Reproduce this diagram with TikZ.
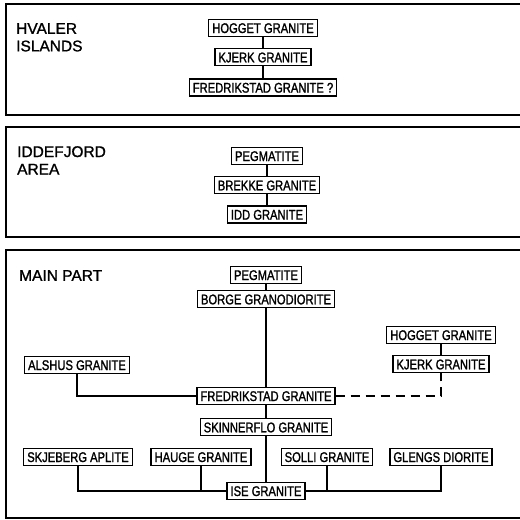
\documentclass[tikz,border=0pt]{standalone}
\usepackage{fontspec}
\setmainfont{Liberation Sans}[FakeBold=1.2]
\newfontfamily\rockfont{Liberation Sans}[FakeStretch=0.8,FakeBold=1.4]
\usetikzlibrary{positioning}

\begin{document}
\begin{tikzpicture}[x=1pt,y=-1pt,node distance=11pt,
  rock/.style={draw,line width=1.3pt,font=\rockfont\fontsize{14}{15}\selectfont,
    inner xsep=3.5pt,inner ysep=0pt,minimum height=17pt,text height=10pt,text depth=0pt},
  area/.style={font=\fontsize{15.5}{17.5}\selectfont,align=left,anchor=north west,inner sep=0pt},
  panel/.style={line width=1.6pt},
  link/.style={line width=1.2pt}]
  \useasboundingbox (0,0) rectangle (520,520);

  % panels, open to the right
  \draw[panel] (522,4) -| (6,115) -- (522,115);
  \draw[panel] (522,127) -| (6,237) -- (522,237);
  \draw[panel] (522,250) -| (6,518) -- (522,518);

  % Hvaler islands
  \node[area] (hvaler) at (16,23) {HVALER\\ISLANDS};
  \node[rock] (hogH) at (263,28) {HOGGET GRANITE};
  \node[rock,below=of hogH] (kjeH) {KJERK GRANITE};
  \node[rock,below=12pt of kjeH] (freH) {FREDRIKSTAD GRANITE ?};
  \draw[link] (hogH) -- (kjeH) -- (freH);

  % Iddefjord area
  \node[area] (iddefjord) at (17,146) {IDDEFJORD\\AREA};
  \node[rock] (pegI) at (267,156) {PEGMATITE};
  \node[rock,below=of pegI] (breI) {BREKKE GRANITE};
  \node[rock,below=of breI] (iddI) {IDD GRANITE};
  \draw[link] (pegI) -- (breI) -- (iddI);

  % main part
  \node[area] (mainpart) at (19,270) {MAIN PART};
  \node[rock] (pegM) at (266,275) {PEGMATITE};
  \node[rock,below=6pt of pegM] (borM) {BORGE GRANODIORITE};
  \node[rock] (freM) at (266,396) {FREDRIKSTAD GRANITE};
  \node[rock,below=13pt of freM] (skiM) {SKINNERFLO GRANITE};
  \node[rock] (iseM) at (266,491) {ISE GRANITE};
  \node[rock] (alsM) at (77,365) {ALSHUS GRANITE};
  \node[rock] (hogM) at (441,335) {HOGGET GRANITE};
  \node[rock,below=of hogM] (kjeM) {KJERK GRANITE};
  \node[rock] (skjM) at (78,457) {SKJEBERG APLITE};
  \node[rock] (hauM) at (201,457) {HAUGE GRANITE};
  \node[rock] (solM) at (327,457) {SOLLI GRANITE};
  \node[rock] (gleM) at (441,457) {GLENGS DIORITE};

  \draw[link] (pegM) -- (borM) -- (freM) -- (skiM) -- (iseM);
  \draw[link] (hogM) -- (kjeM);
  \draw[link] (alsM) |- (freM);
  \draw[link,dash pattern=on 9pt off 6pt] (freM) -| (kjeM);
  \draw[link] (skjM) |- (iseM);
  \draw[link] (hauM) |- (iseM);
  \draw[link] (solM) |- (iseM);
  \draw[link] (gleM) |- (iseM);
\end{tikzpicture}
\end{document}
